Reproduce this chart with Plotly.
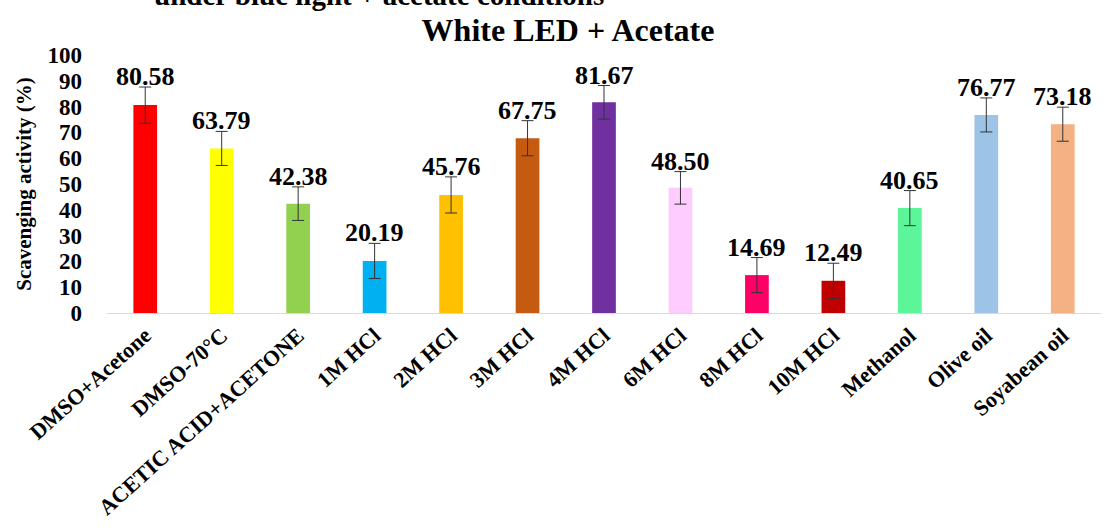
import plotly.graph_objects as go

# 数据
categories = ['DMSO+Acetone', 'DMSO-70°C', 'ACETIC ACID+ACETONE', '1M HCl', '2M HCl',
              '3M HCl', '4M HCl', '6M HCl', '8M HCl', '10M HCl', 'Methanol',
              'Olive oil', 'Soyabean oil']
values = [80.58, 63.79, 42.38, 20.19, 45.76, 67.75, 81.67, 48.50, 14.69, 12.49, 40.65, 76.77, 73.18]
errors = [7.0, 6.6, 6.5, 6.8, 7.0, 6.8, 6.5, 6.3, 6.8, 6.8, 6.8, 6.6, 6.6]
colors = ['#FF0000', '#FFFF00', '#92D050', '#00B0F0', '#FFC000', '#C55A11', '#7030A0',
          '#FFCCFF', '#FF0066', '#C00000', '#5CF59A', '#9DC3E6', '#F4B183']
y_ticks = list(range(0, 101, 10))

FONT = 'Liberation Serif'

fig = go.Figure()

fig.add_trace(go.Bar(
    x=categories,
    y=values,
    marker=dict(color=colors, line_width=0),
    error_y=dict(type='data', array=errors, visible=True,
                 color='#333333', thickness=1, width=6),
    showlegend=False
))

# 数值标签
for cat, v, e in zip(categories, values, errors):
    fig.add_annotation(
        x=cat, y=v + e, text='<b>%.2f</b>' % v,
        showarrow=False, yanchor='bottom', yshift=-6,
        font=dict(family=FONT, size=26, color='black')
    )

# 顶部被裁切的说明文字（原图中只露出下半部分）
fig.add_annotation(
    xref='paper', yref='paper', x=0.045, y=1.163,
    xanchor='left', yanchor='bottom',
    text='<b>under blue light + acetate conditions</b>',
    showarrow=False, font=dict(family=FONT, size=29, color='black')
)

fig.update_layout(
    title=dict(text='<b>White LED + Acetate</b>', x=0.5145, xanchor='center',
               y=1 - 30 / 530, yanchor='middle',
               font=dict(family=FONT, size=32, color='black')),
    width=1104, height=530,
    margin=dict(l=107, r=3, t=55, b=217),
    plot_bgcolor='white', paper_bgcolor='white',
    bargap=0.69,
    font=dict(family=FONT, color='black'),
    xaxis=dict(
        tickangle=-42,
        tickmode='array', tickvals=categories,
        ticktext=['<b>%s</b>' % c for c in categories],
        tickfont=dict(family=FONT, size=22, color='black'),
        showline=True, linecolor='#D9D9D9', linewidth=1,
        showgrid=False, ticks='', automargin=False
    ),
    yaxis=dict(
        range=[0, 100], tickmode='array', tickvals=y_ticks,
        ticktext=['<b>%d</b>' % t for t in y_ticks],
        tickfont=dict(family=FONT, size=23, color='black'),
        showgrid=False, zeroline=False, showline=False,
        ticklabelstandoff=24, automargin=False,
        title=dict(text='<b>Scavenging activity (%)</b>', standoff=10,
                   font=dict(family=FONT, size=21, color='black'))
    )
)

fig.write_html("out.html", config={'displayModeBar': False},
               post_script="document.body.style.margin='0';")
